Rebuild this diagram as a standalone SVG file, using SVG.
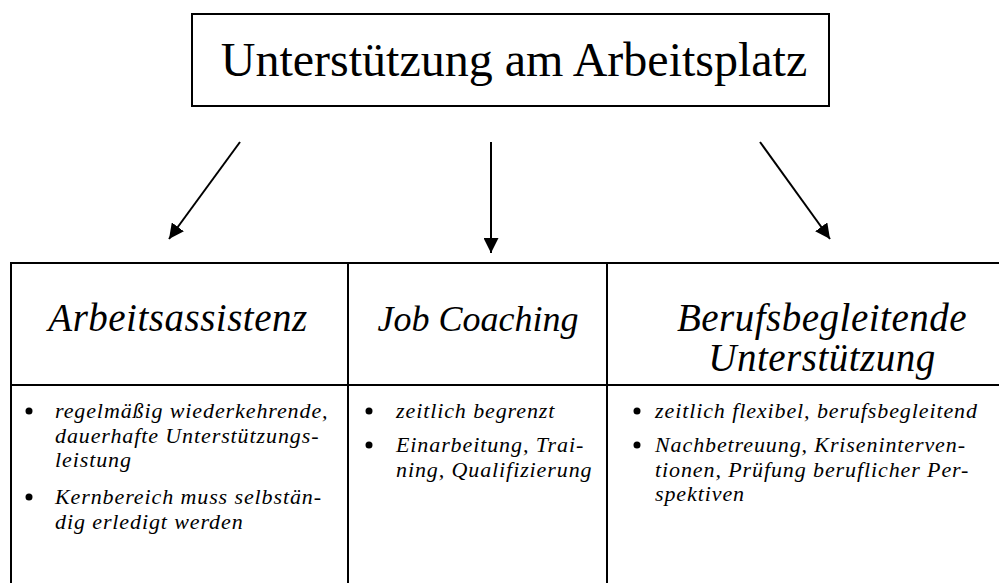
<svg xmlns="http://www.w3.org/2000/svg" width="999" height="583" viewBox="0 0 999 583">
<defs>
<style>
.box{fill:#fff;stroke:#000;stroke-width:2}
.ln{stroke:#000;stroke-width:2;fill:none}
.con{stroke:#000;stroke-width:2;fill:none}
.title{font-family:"Liberation Serif",serif;font-size:48px;fill:#000}
.hd{font-family:"Liberation Serif",serif;font-style:italic;font-size:39px;letter-spacing:0.5px;fill:#000}
.tx{font-family:"Liberation Serif",serif;font-style:italic;font-size:22px;letter-spacing:0.9px;fill:#000}
.bul{fill:#000}
</style>
<marker id="ah" viewBox="0 0 10 10" refX="10" refY="5" markerWidth="7.5" markerHeight="7.5" markerUnits="strokeWidth" orient="auto">
<path d="M0,0 L10,5 L0,10 z" fill="#000"/>
</marker>
</defs>
<rect width="999" height="583" fill="#fff"/>
<g id="title">
<rect class="box" x="192" y="14" width="637" height="92"/>
<text class="title" x="514" y="76" text-anchor="middle">Unterstützung am Arbeitsplatz</text>
</g>
<g id="connectors">
<line class="con" x1="240" y1="142" x2="169" y2="239" marker-end="url(#ah)"/>
<line class="con" x1="491" y1="142" x2="491" y2="253" marker-end="url(#ah)"/>
<line class="con" x1="760" y1="142" x2="830" y2="239" marker-end="url(#ah)"/>
</g>
<g id="table">
<line class="ln" x1="10" y1="263" x2="1000" y2="263"/>
<line class="ln" x1="10" y1="385" x2="1000" y2="385"/>
<line class="ln" x1="11" y1="262" x2="11" y2="583"/>
<line class="ln" x1="348" y1="262" x2="348" y2="583"/>
<line class="ln" x1="607" y1="262" x2="607" y2="583"/>
</g>
<g id="arbeitsassistenz">
<text class="hd" x="178" y="331" text-anchor="middle">Arbeitsassistenz</text>
<circle class="bul" cx="29" cy="411" r="3.5"/>
<text class="tx" x="55" y="418">regelmäßig wiederkehrende,</text>
<text class="tx" x="55" y="442.5">dauerhafte Unterstützungs-</text>
<text class="tx" x="55" y="467">leistung</text>
<circle class="bul" cx="29" cy="497" r="3.5"/>
<text class="tx" x="55" y="504">Kernbereich muss selbstän-</text>
<text class="tx" x="55" y="528.5">dig erledigt werden</text>
</g>
<g id="jobcoaching">
<text class="hd" x="478" y="331" text-anchor="middle" style="font-size:36px;letter-spacing:0">Job Coaching</text>
<circle class="bul" cx="369" cy="411" r="3.5"/>
<text class="tx" x="396" y="418">zeitlich begrenzt</text>
<circle class="bul" cx="369" cy="445" r="3.5"/>
<text class="tx" x="396" y="452">Einarbeitung, Trai-</text>
<text class="tx" x="396" y="476.5">ning, Qualifizierung</text>
</g>
<g id="berufsbegleitende">
<text class="hd" x="822" y="331" text-anchor="middle">Berufsbegleitende</text>
<text class="hd" x="822" y="371" text-anchor="middle">Unterstützung</text>
<circle class="bul" cx="637" cy="411" r="3.5"/>
<text class="tx" x="655" y="418">zeitlich flexibel, berufsbegleitend</text>
<circle class="bul" cx="637" cy="445" r="3.5"/>
<text class="tx" x="655" y="452">Nachbetreuung, Kriseninterven-</text>
<text class="tx" x="655" y="476.5">tionen, Prüfung beruflicher Per-</text>
<text class="tx" x="655" y="501">spektiven</text>
</g>
</svg>
